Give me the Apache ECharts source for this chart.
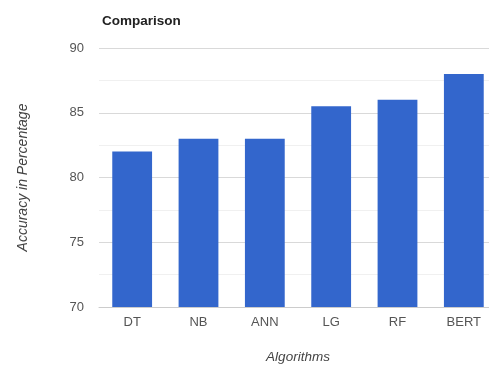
<!DOCTYPE html>
<html>
<head>
<meta charset="utf-8">
<script src="https://cdn.jsdelivr.net/npm/echarts@6/dist/echarts.min.js"></script>
<style>
  html, body { margin: 0; padding: 0; background: #fff; }
  #chart { width: 489px; height: 367px; }
</style>
</head>
<body>
<div id="chart"></div>
<script>
// Classifier accuracy comparison
const algorithms = ['DT', 'NB', 'ANN', 'LG', 'RF', 'BERT'];
const accuracy = [82, 83, 83, 85.5, 86, 88];
const yTicks = [70, 75, 80, 85, 90];

const font = '"Liberation Sans", Arial, sans-serif';
const chart = echarts.init(document.getElementById('chart'));
chart.setOption({
  animation: false,
  title: {
    text: 'Comparison',
    left: 97, top: 9,
    textStyle: { fontFamily: font, fontSize: 13.5, fontWeight: 'bold', color: '#222' }
  },
  grid: {
    left: 99, top: 48, width: 398, height: 259,
    containLabel: false, outerBoundsMode: 'none'
  },
  xAxis: {
    type: 'category',
    data: algorithms,
    name: 'Algorithms',
    nameLocation: 'middle',
    nameGap: 43,
    nameTextStyle: { fontFamily: font, fontSize: 13.5, fontStyle: 'italic', color: '#444' },
    axisLine: { show: true, lineStyle: { color: '#ccc' } },
    axisTick: { show: false },
    axisLabel: { fontFamily: font, fontSize: 13, color: '#555', margin: 9 }
  },
  yAxis: {
    type: 'value',
    min: yTicks[0],
    max: yTicks[yTicks.length - 1],
    interval: 5,
    name: 'Accuracy in Percentage',
    nameLocation: 'middle',
    nameGap: 69,
    nameTextStyle: { fontFamily: font, fontSize: 14, fontStyle: 'italic', color: '#444' },
    axisLine: { show: false },
    axisTick: { show: false },
    axisLabel: { fontFamily: font, fontSize: 13, color: '#555', margin: 15 },
    splitLine: { lineStyle: { color: '#d9d9d9' } },
    minorTick: { show: false, splitNumber: 2 },
    minorSplitLine: { show: true, lineStyle: { color: '#f0f0f0' } }
  },
  series: [{
    type: 'bar',
    data: accuracy,
    barCategoryGap: '40%',
    itemStyle: { color: '#3366cc' }
  }]
});
</script>
</body>
</html>
